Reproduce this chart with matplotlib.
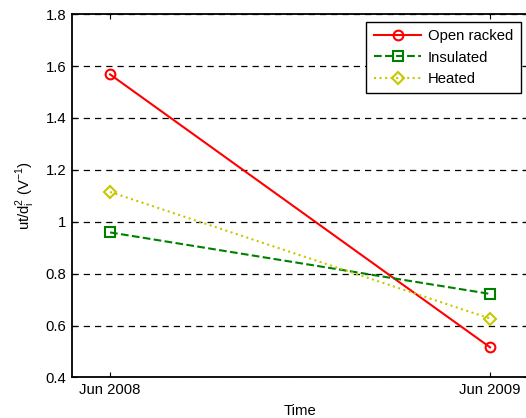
import matplotlib.pyplot as plt

plt.rcParams['font.family'] = ['Liberation Sans', 'DejaVu Sans']

times = ['Jun 2008', 'Jun 2009']
open_racked = [1.568, 0.516]
insulated = [0.959, 0.722]
heated = [1.115, 0.627]

x = list(range(len(times)))
fs = 10.7

fig = plt.figure(figsize=(5.26, 4.18), dpi=100)
# axes runs slightly past the right edge of the image, as in the original
ax = fig.add_axes([0.137, 0.097, 0.867, 0.869])

ax.plot(x, open_racked, '-o', color='#ff0000', lw=1.5, ms=7, mfc='none', mew=1.5, label='Open racked')
ax.plot(x, insulated, '--s', color='#008000', lw=1.5, ms=7, mfc='none', mew=1.5, label='Insulated')
ax.plot(x, heated, ':D', color='#c8c800', lw=1.5, ms=6, mfc='none', mew=1.5, label='Heated')

ax.set_xlim(-0.1, 1.1)
ax.set_ylim(0.4, 1.8)
ax.set_xticks(x)
ax.set_xticklabels(times)
ax.set_yticks([0.4, 0.6, 0.8, 1.0, 1.2, 1.4, 1.6, 1.8])
ax.set_yticklabels(['0.4', '0.6', '0.8', '1', '1.2', '1.4', '1.6', '1.8'])
ax.yaxis.grid(True, linestyle=(0, (5, 4)), color='black', lw=0.9)
ax.tick_params(direction='in', top=True, right=True, labelsize=fs, length=3.5, pad=4)
for s in ax.spines.values():
    s.set_linewidth(1.3)

ax.set_xlabel('Time', fontsize=fs, labelpad=5)
ax.set_ylabel(r'ut/d$_\mathregular{i}^\mathregular{2}$ (V$^\mathregular{-1}$)', fontsize=fs, labelpad=6)

leg = ax.legend(loc='upper right', fontsize=fs, fancybox=False, edgecolor='black',
                framealpha=1, handlelength=3.2, handletextpad=0.45, labelspacing=0.5,
                borderpad=0.5, borderaxespad=0.5)
leg.get_frame().set_linewidth(1.0)

fig.savefig('out.png', dpi=100)
